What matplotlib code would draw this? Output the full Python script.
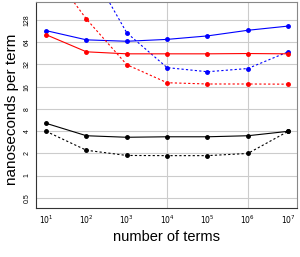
import numpy as np
import matplotlib
matplotlib.use("Agg")
import matplotlib.pyplot as plt

plt.rcParams['font.family'] = ['Liberation Sans', 'DejaVu Sans']

# number of terms
n_terms = [1e1, 1e2, 1e3, 1e4, 1e5, 1e6, 1e7]

# nanoseconds per term
blue_solid = [92, 69, 66, 70, 78, 93, 106]
blue_dashed = [4000, 780, 86, 29, 25.5, 28.2, 47.5]
red_solid = [81, 47.5, 44.6, 44.6, 44.6, 45, 44.6]
red_dashed = [720, 132, 31.8, 18.1, 17.4, 17.4, 17.3]
black_solid = [5.1, 3.46, 3.3, 3.35, 3.35, 3.46, 3.97]
black_dashed = [3.97, 2.2, 1.87, 1.86, 1.86, 1.99, 3.97]

y_ticks = [0.5, 1, 2, 4, 8, 16, 32, 64, 128]
y_tick_labels = ['0.5', '1', '2', '4', '8', '16', '32', '64', '128']
x_ticks = [1e1, 1e2, 1e3, 1e4, 1e5, 1e6, 1e7]
x_tick_labels = [r'$10^{%d}$' % k for k in range(1, 8)]

fig = plt.figure(figsize=(3.0, 2.57), dpi=100)
ax = fig.add_axes([0.12, 0.19, 0.87, 0.802])

ax.set_xscale('log')
ax.set_yscale('log', base=2)
ax.set_xlim(10 ** 0.75, 10 ** 7.22)
ax.set_ylim(2 ** -1.47, 2 ** 7.81)

# grid
for v in y_ticks:
    ax.axhline(v, color='#cccccc', lw=0.8, zorder=0)
for v in [1e4, 1e6]:
    ax.axvline(v, color='#cccccc', lw=0.8, zorder=0)

ms = 2.5
ax.plot(n_terms, blue_solid, '-', color='blue', lw=0.8, marker='o', ms=ms)
ax.plot(n_terms, blue_dashed, '--', color='blue', lw=0.8, marker='o', ms=ms, dashes=(2, 2))
ax.plot(n_terms, red_solid, '-', color='red', lw=0.8, marker='o', ms=ms)
ax.plot(n_terms, red_dashed, '--', color='red', lw=0.8, marker='o', ms=ms, dashes=(2, 2))
ax.plot(n_terms, black_solid, '-', color='black', lw=0.8, marker='o', ms=ms)
ax.plot(n_terms, black_dashed, '--', color='black', lw=0.8, marker='o', ms=ms, dashes=(2, 2))

ax.set_xticks(x_ticks)
ax.set_xticklabels(x_tick_labels, fontsize=5.5)
ax.xaxis.set_minor_locator(matplotlib.ticker.NullLocator())
ax.set_yticks(y_ticks)
ax.set_yticklabels(y_tick_labels, fontsize=5, rotation=90, va='center')
ax.yaxis.set_minor_locator(matplotlib.ticker.NullLocator())
ax.tick_params(length=0, pad=4)

for s in ['top', 'right']:
    ax.spines[s].set_color('#888888')
for s in ['left', 'bottom']:
    ax.spines[s].set_color('#333333')
for s in ax.spines.values():
    s.set_linewidth(0.8)

ax.set_xlabel('number of terms', fontsize=10.5, labelpad=3)
ax.set_ylabel('nanoseconds per term', fontsize=11, labelpad=2)
ax.yaxis.set_label_coords(-0.065, 0.48)

fig.savefig('out.png', dpi=100)
